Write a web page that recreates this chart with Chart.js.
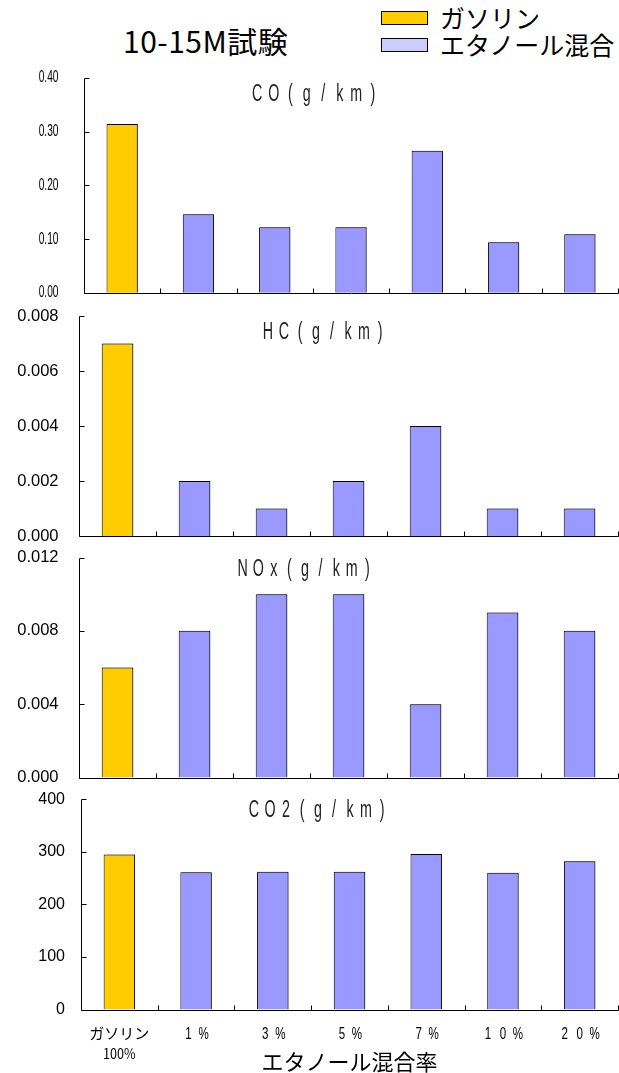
<!DOCTYPE html>
<html lang="ja">
<head>
<meta charset="utf-8">
<title>10-15M試験</title>
<script src="https://cdn.jsdelivr.net/npm/chart.js@4.4.0/dist/chart.umd.min.js"></script>
<style>
  html, body { margin: 0; padding: 0; background: #fff; }
  body {
    width: 619px; height: 1073px; position: relative; overflow: hidden;
    font-family: "Noto Sans CJK JP", sans-serif; color: #000;
  }
  canvas { position: absolute; left: 0; }
  .heading { position: absolute; left: 123px; top: 22px; font-size: 30px; line-height: 36px; letter-spacing: 0.5px; white-space: nowrap; }
  .legend { position: absolute; left: 381px; top: 4px; font-size: 25px; }
  .legend .row { display: flex; align-items: center; height: 27px; line-height: 27px; white-space: nowrap; }
  .legend .sw { width: 45px; height: 12px; border: 1px solid #000; margin-right: 12px; box-sizing: content-box; }
</style>
</head>
<body>
<div class="heading">10-15M試験</div>
<div class="legend">
  <div class="row"><span class="sw" style="background:#FFCC00"></span>ガソリン</div>
  <div class="row"><span class="sw" style="background:#CCCCFF"></span>エタノール混合</div>
</div>
<canvas id="co" width="619" height="245" style="top:60px"></canvas>
<canvas id="hc" width="619" height="240" style="top:305px"></canvas>
<canvas id="nox" width="619" height="245" style="top:545px"></canvas>
<canvas id="co2" width="619" height="283" style="top:790px"></canvas>
<script>
// blend ratios along the x axis
const categories = [['ガソリン', '100%'], '1%', '3%', '5%', '7%', '10%', '20%'];

// emissions per test (g/km)
const coValues = [0.314, 0.146, 0.122, 0.122, 0.264, 0.094, 0.109];
const hcValues = [0.007, 0.002, 0.001, 0.002, 0.004, 0.001, 0.001];
const noxValues = [0.006, 0.008, 0.010, 0.010, 0.004, 0.009, 0.008];
const co2Values = [295, 261, 262, 262, 296, 260, 282];

// y axis ticks
const coTicks = [0, 0.1, 0.2, 0.3, 0.4];
const hcTicks = [0, 0.002, 0.004, 0.006, 0.008];
const noxTicks = [0, 0.004, 0.008, 0.012];
const co2Ticks = [0, 100, 200, 300, 400];

const GAS = '#FFCC00';
const ETH = '#9999FF';

const panels = [
  { id: 'co', title: 'CO(g/km)', values: coValues, ticks: coTicks, digits: 2,
    top: 60, areaTop: 77.8, areaBottom: 292.7, axisX: 84,
    titleX: 315, titleY: 95, cell: 16.5,
    labelFont: '17px "Liberation Sans"', labelScale: 0.6, labelRight: 58.5 },
  { id: 'hc', title: 'HC(g/km)', values: hcValues, ticks: hcTicks, digits: 3,
    top: 305, areaTop: 316, areaBottom: 536, axisX: 79,
    titleX: 324, titleY: 333, cell: 16,
    labelFont: '16.5px "Liberation Sans"', labelScale: 1, labelRight: 58.5 },
  { id: 'nox', title: 'NOx(g/km)', values: noxValues, ticks: noxTicks, digits: 3,
    top: 545, areaTop: 557.5, areaBottom: 777.5, axisX: 79,
    titleX: 305, titleY: 570, cell: 15.6,
    labelFont: '16.5px "Liberation Sans"', labelScale: 1, labelRight: 58.5 },
  { id: 'co2', title: 'CO2(g/km)', values: co2Values, ticks: co2Ticks, digits: 0,
    top: 790, areaTop: 799.3, areaBottom: 1009.5, axisX: 81,
    titleX: 318, titleY: 811, cell: 16,
    labelFont: '16px "Liberation Sans"', labelScale: 1, labelRight: 65, bottomLabels: true }
];

// characters laid out in even cells, squeezed horizontally
function spacedText(ctx, text, cx, cy, cell, hs) {
  const chars = [...text];
  const start = cx - (chars.length - 1) * cell / 2;
  chars.forEach((ch, i) => {
    ctx.save();
    ctx.translate(start + i * cell, cy);
    ctx.scale(hs, 1);
    ctx.fillText(ch, 0, 0);
    ctx.restore();
  });
}

function squeezedText(ctx, text, x, y, hs) {
  ctx.save();
  ctx.translate(x, y);
  ctx.scale(hs, 1);
  ctx.fillText(text, 0, 0);
  ctx.restore();
}

const panelDecor = {
  id: 'panelDecor',
  beforeDatasetsDraw(chart) {
    const ctx = chart.ctx;
    ctx.save();
    ctx.shadowColor = 'rgba(0,0,0,0.35)';
    ctx.shadowOffsetX = 1.5;
    ctx.shadowOffsetY = 0;
    ctx.shadowBlur = 0;
  },
  afterDatasetsDraw(chart) {
    chart.ctx.restore();
  },
  afterDraw(chart, args, p) {
    const { ctx, chartArea: a, scales: { x, y } } = chart;
    const lx = Math.round(a.left) + 0.5;
    const by = Math.round(a.bottom) + 0.5;

    ctx.save();
    ctx.strokeStyle = '#000';
    ctx.lineWidth = 1;
    ctx.beginPath();
    ctx.moveTo(lx, Math.round(a.top) + 0.5);
    ctx.lineTo(lx, by);
    ctx.lineTo(Math.round(a.right) + 0.5, by);
    // inward ticks on the value axis
    p.ticks.forEach(v => {
      const py = Math.round(y.getPixelForValue(v)) + 0.5;
      ctx.moveTo(lx, py);
      ctx.lineTo(lx + 5, py);
    });
    // ticks between categories
    categories.forEach((c, i) => {
      const px = Math.round(x.getPixelForValue(i + 0.5)) + 0.5;
      ctx.moveTo(px, by);
      ctx.lineTo(px, by - 5);
    });
    ctx.stroke();

    ctx.fillStyle = '#000';
    ctx.textBaseline = 'middle';

    // value labels
    ctx.font = p.labelFont;
    ctx.textAlign = 'right';
    p.ticks.forEach(v => {
      squeezedText(ctx, v.toFixed(p.digits), p.labelRight, y.getPixelForValue(v), p.labelScale);
    });

    // panel title
    ctx.textAlign = 'center';
    ctx.fillStyle = '#222';
    ctx.font = '23px "Liberation Sans"';
    spacedText(ctx, p.title, p.titleX, p.titleY - p.top, p.cell, 0.62);
    ctx.fillStyle = '#000';

    if (p.bottomLabels) {
      const ly = 1034 - p.top;
      categories.forEach((c, i) => {
        const cx = x.getPixelForValue(i);
        if (Array.isArray(c)) {
          ctx.font = '15px "Noto Sans CJK JP"';
          ctx.fillText(c[0], cx, ly - 1);
          ctx.font = '14px "Noto Sans CJK JP"';
          squeezedText(ctx, c[1], cx, ly + 20, 0.9);
        } else {
          ctx.font = '17px "Liberation Sans"';
          spacedText(ctx, c, cx, ly, 15, 0.68);
        }
      });
      ctx.font = '22px "Noto Sans CJK JP"';
      ctx.fillText('エタノール混合率', (a.left + a.right) / 2, 1062 - p.top);
    }
    ctx.restore();
  }
};

panels.forEach(p => {
  const canvas = document.getElementById(p.id);
  new Chart(canvas, {
    type: 'bar',
    data: {
      labels: categories,
      datasets: [{
        data: p.values,
        backgroundColor: p.values.map((v, i) => i === 0 ? GAS : ETH),
        borderColor: '#000',
        borderWidth: 1,
        barPercentage: 0.41,
        categoryPercentage: 1
      }]
    },
    options: {
      responsive: false,
      animation: false,
      events: [],
      layout: {
        padding: {
          left: 0,
          right: 1,
          top: p.areaTop - p.top,
          bottom: canvas.height - (p.areaBottom - p.top)
        }
      },
      plugins: {
        legend: { display: false },
        tooltip: { enabled: false },
        panelDecor: p
      },
      scales: {
        x: {
          grid: { display: false },
          border: { display: false },
          ticks: { display: false },
          afterFit(s) { s.height = 0; }
        },
        y: {
          min: p.ticks[0],
          max: p.ticks[p.ticks.length - 1],
          grid: { display: false },
          border: { display: false },
          ticks: { display: false },
          afterFit(s) { s.width = p.axisX; }
        }
      }
    },
    plugins: [panelDecor]
  });
});
</script>
</body>
</html>
